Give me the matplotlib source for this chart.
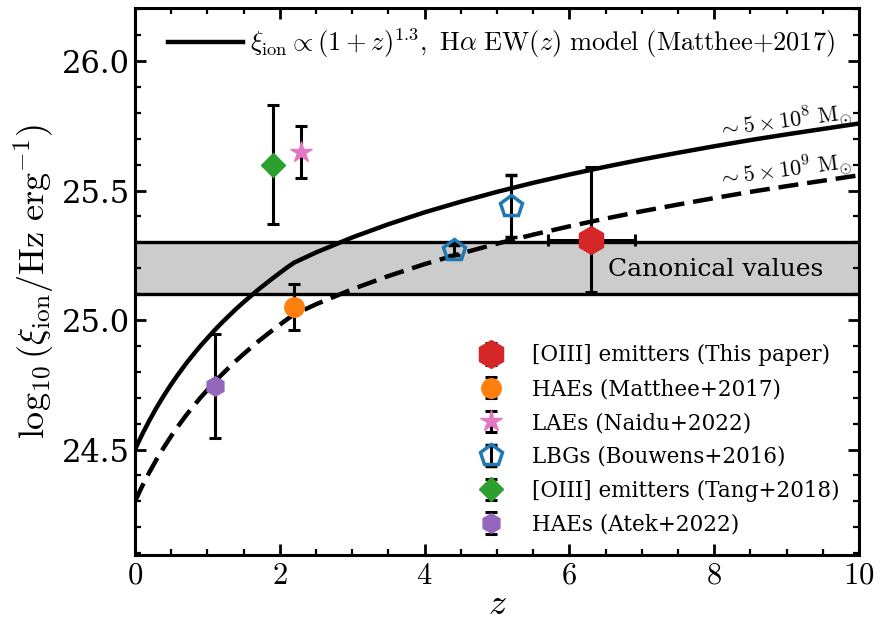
import matplotlib
matplotlib.use('Agg')
import matplotlib.pyplot as plt
import numpy as np
from matplotlib.ticker import MultipleLocator

plt.rcParams['font.family'] = 'serif'
plt.rcParams['font.serif'] = ['DejaVu Serif']
plt.rcParams['mathtext.fontset'] = 'cm'

# ---- model curves ----
z_model = [0.0, 0.1, 0.2, 0.3, 0.4, 0.5, 0.6, 0.7, 0.8, 0.9, 1.0, 1.1, 1.2, 1.3, 1.4,
           1.5, 1.6, 1.7, 1.8, 1.9, 2.0, 2.1, 2.2, 2.5, 3.0, 3.5, 4.0, 4.5, 5.0, 5.5,
           6.0, 6.5, 7.0, 7.5, 8.0, 8.5, 9.0, 9.5, 10.0]
xi_low_mass = [24.500, 24.559, 24.613, 24.663, 24.709, 24.752, 24.792, 24.830, 24.865,
               24.899, 24.930, 24.961, 24.990, 25.017, 25.044, 25.069, 25.093, 25.117,
               25.139, 25.161, 25.182, 25.203, 25.222, 25.261, 25.319, 25.370, 25.416,
               25.457, 25.495, 25.530, 25.562, 25.592, 25.620, 25.646, 25.671, 25.695,
               25.717, 25.738, 25.759]
xi_hi_mass = [24.300, 24.359, 24.413, 24.463, 24.509, 24.552, 24.592, 24.630, 24.665,
              24.699, 24.730, 24.761, 24.790, 24.817, 24.844, 24.869, 24.893, 24.917,
              24.939, 24.961, 24.982, 25.003, 25.022, 25.061, 25.119, 25.170, 25.216,
              25.257, 25.295, 25.330, 25.362, 25.392, 25.420, 25.446, 25.471, 25.495,
              25.517, 25.538, 25.559]

# ---- canonical band ----
canon_lo, canon_hi = 25.1, 25.3

# ---- observations ----
this_z, this_xi = [6.3], [25.31]
this_zerr = [0.6]
this_xierr = [[0.2], [0.28]]

matthee_z, matthee_xi, matthee_err = [2.2], [25.05], [0.09]
naidu_z, naidu_xi, naidu_err = [2.3], [25.65], [0.10]
bouwens_z, bouwens_xi, bouwens_err = [4.4, 5.2], [25.27, 25.44], [0.02, 0.12]
tang_z, tang_xi, tang_err = [1.9], [25.60], [0.23]
atek_z, atek_xi, atek_err = [1.1], [24.745], [0.20]

fig = plt.figure(figsize=(8.81, 6.33), dpi=100)
ax = fig.add_axes([0.1532, 0.1232, 0.8218, 0.8642])

ax.axhspan(canon_lo, canon_hi, color='0.8', lw=0, zorder=0)
ax.axhline(canon_lo, color='k', lw=2.4, zorder=1)
ax.axhline(canon_hi, color='k', lw=2.4, zorder=1)
ax.text(8.02, 25.195, 'Canonical values', ha='center', va='center', fontsize=18)

l1, = ax.plot(z_model, xi_low_mass, 'k-', lw=3.2, zorder=2,
              label=r'$\xi_{\rm ion}\propto(1+z)^{1.3},\ {\rm H}\alpha\ {\rm EW}(z)\ {\rm model\ (Matthee{+}2017)}$')
ax.plot(z_model, xi_hi_mass, 'k--', lw=3.2, dashes=(4.5, 2), zorder=2)

ax.text(8.98, 25.768, r'$\sim5\times10^{8}\ {\rm M}_{\odot}$', ha='center', va='center',
        rotation=7.5, rotation_mode='anchor', fontsize=16)
ax.text(8.98, 25.578, r'$\sim5\times10^{9}\ {\rm M}_{\odot}$', ha='center', va='center',
        rotation=7.5, rotation_mode='anchor', fontsize=16)

eb = dict(ecolor='k', elinewidth=2.2, capsize=4, capthick=2.2, ls='none')
h1 = ax.errorbar(this_z, this_xi, xerr=this_zerr, yerr=this_xierr, fmt='h', color='#d62728',
                 ms=20, zorder=5, label='[OIII] emitters (This paper)', **eb)
h2 = ax.errorbar(matthee_z, matthee_xi, yerr=matthee_err, fmt='o', color='#ff7f0e',
                 ms=14, zorder=4, label='HAEs (Matthee+2017)', **eb)
h3 = ax.errorbar(naidu_z, naidu_xi, yerr=naidu_err, fmt='*', color='#e377c2',
                 ms=16, zorder=4, label='LAEs (Naidu+2022)', **eb)
h4 = ax.errorbar(bouwens_z, bouwens_xi, yerr=bouwens_err, fmt='p', color='#1f77b4',
                 mfc='none', mew=2.5, ms=16, zorder=4, label='LBGs (Bouwens+2016)', **eb)
h5 = ax.errorbar(tang_z, tang_xi, yerr=tang_err, fmt='D', color='#2ca02c',
                 ms=12, zorder=4, label='[OIII] emitters (Tang+2018)', **eb)
h6 = ax.errorbar(atek_z, atek_xi, yerr=atek_err, fmt='h', color='#9467bd',
                 ms=14, zorder=4, label='HAEs (Atek+2022)', **eb)

leg1 = ax.legend(handles=[l1], loc='upper left', frameon=False, fontsize=19,
                 handlelength=2.85, handletextpad=0.25, borderaxespad=0.3,
                 bbox_to_anchor=(0.02, 1.0))
ax.add_artist(leg1)
ax.legend(handles=[h1, h2, h3, h4, h5, h6], loc='lower right', frameon=False,
          fontsize=15.5, labelspacing=0.55, handletextpad=0.9,
          bbox_to_anchor=(1.0, 0.0))

ax.set_xlim(0, 10)
ax.set_ylim(24.093, 26.205)
ax.set_xticks([0, 2, 4, 6, 8, 10])
ax.set_xticklabels([r'$%d$' % v for v in [0, 2, 4, 6, 8, 10]])
ax.xaxis.set_minor_locator(MultipleLocator(0.5))
ax.yaxis.set_major_locator(MultipleLocator(0.5))
ax.yaxis.set_minor_locator(MultipleLocator(0.1))
ax.tick_params(which='both', direction='in', top=True, right=True)
ax.tick_params(which='major', length=8, width=2, labelsize=22)
ax.tick_params(which='minor', length=4.5, width=1.6)
for s in ax.spines.values():
    s.set_linewidth(2.2)

ax.set_xlabel(r'$z$', fontsize=26, labelpad=-3)
ax.set_ylabel(r'$\log_{10}(\xi_{\rm ion}/{\rm Hz\ erg^{-1}})$', fontsize=26, labelpad=4)

fig.savefig('out.png', dpi=100)
